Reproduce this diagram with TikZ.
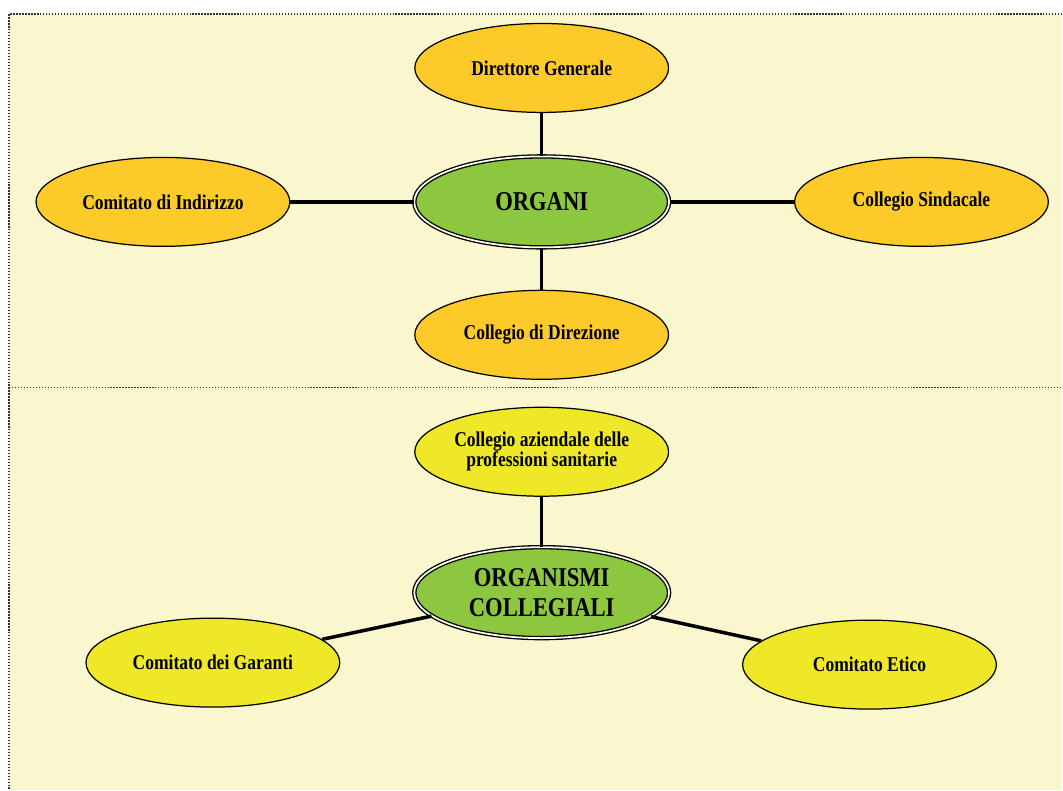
\documentclass[tikz,border=0pt]{standalone}
\usepackage{fontspec}
\setmainfont{Liberation Serif}[FakeStretch=0.83]
\usetikzlibrary{shapes.geometric}

\definecolor{fondo}{RGB}{250,246,206}
\definecolor{arancio}{RGB}{253,203,41}
\definecolor{verde}{RGB}{141,198,63}
\definecolor{giallo}{RGB}{238,232,40}

\tikzset{
organo/.style={ellipse, draw, line width=0.7pt, fill=arancio,
  minimum width=5.08cm, minimum height=1.78cm, inner sep=0pt,
  align=center, font=\fontsize{12}{11.4}\selectfont\bfseries},
organismo/.style={organo, fill=giallo},
centro/.style={ellipse, draw, line width=0.75pt, double=fondo!40!white,
  double distance=1pt, fill=verde, minimum width=5.1cm, minimum height=1.82cm,
  inner sep=0pt, align=center, font=\fontsize{15.5}{17.5}\selectfont\bfseries},
legame/.style={line width=2pt},
cornice/.style={gray!40!black, densely dotted, line width=0.7pt}
}

\begin{document}
\begin{tikzpicture}[x=0.02cm,y=-0.02cm]

\fill[white] (0,0) rectangle (1063,790);
\fill[fondo] (9,14) rectangle (1063,790);
\draw[cornice] (1063,14) -- (9,14) -- (9,790);
\draw[cornice] (9,388) -- (1063,388);

% Organi
\node[centro] (organi) at (542,202) {ORGANI};
\node[organo] (dg) at (542,68) {Direttore Generale};
\node[organo] (ci) at (163,202) {Comitato di Indirizzo};
\node[organo] (cs) at (922,202) {Collegio Sindacale};
\node[organo] (cd) at (542,335) {Collegio di Direzione};

\foreach \n in {dg,ci,cs,cd}
{
\draw[legame] (organi) -- (\n);
}

% Organismi collegiali
\node[centro] (organismi) at (542,593) {ORGANISMI\\COLLEGIALI};
\node[organismo] (caps) at (542,452) {Collegio aziendale delle\\professioni sanitarie};
\node[organismo] (cg) at (213,663) {Comitato dei Garanti};
\node[organismo] (ce) at (870,665) {Comitato Etico};

\foreach \n in {caps,cg,ce}
{
\draw[legame] (organismi) -- (\n);
}

\end{tikzpicture}
\end{document}
